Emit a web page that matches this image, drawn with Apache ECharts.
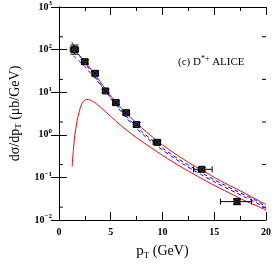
<!DOCTYPE html>
<html><head><meta charset="utf-8">
<script src="https://cdn.jsdelivr.net/npm/echarts@6/dist/echarts.min.js"></script>
<style>html,body{margin:0;padding:0;background:#fff}#c{width:274px;height:265px}</style>
</head><body><div id="c"></div>
<script>
// data
const ptX = [1.5, 2.5, 3.5, 4.5, 5.5, 6.5, 7.5, 9.5, 13.8, 17.2];
const ptY = [100, 52, 27.8, 10.7, 5.7, 3.3, 1.75, 0.666, 0.155, 0.027];
const ptXlo = [1.1, 2.2, 3.2, 4.2, 5.2, 6.2, 7.2, 9.1, 13.0, 15.6];
const ptXhi = [1.9, 2.8, 3.8, 4.8, 5.8, 6.8, 7.8, 9.8, 14.8, 18.6];
const ptYlo = [78, 46, 25, 9.8, 5.2, 3.0, 1.55, 0.6, 0.14, 0.023];
const ptYhi = [128, 58, 31, 11.8, 6.3, 3.6, 1.95, 0.73, 0.17, 0.031];

const ruX = [1.4, 2, 2.5, 3, 3.5, 4, 4.5, 5, 5.5, 6, 6.5, 7, 7.5, 8, 9, 10, 11, 12, 13, 14, 15, 16, 17, 18, 19, 20];
const ruY = [100, 72, 52, 37, 26, 17.5, 11.8, 8.2, 5.9, 4.3, 3.2, 2.45, 1.9, 1.45, 0.9, 0.58, 0.39, 0.27, 0.19, 0.14, 0.1, 0.074, 0.056, 0.042, 0.031, 0.023];
const rlX = [1.28, 1.4, 1.55, 1.72, 2, 2.3, 2.7, 3, 3.5, 4, 5, 6, 7, 8, 9, 10, 11, 12, 13, 14, 15, 16, 17, 18, 19, 20];
const rlY = [0.18, 0.45, 1.0, 1.9, 3.8, 5.8, 6.8, 6.6, 5.6, 4.5, 2.7, 1.65, 1.05, 0.7, 0.48, 0.33, 0.23, 0.165, 0.12, 0.088, 0.065, 0.049, 0.037, 0.028, 0.022, 0.017];
const buX = [1.25, 1.5, 2, 2.5, 3, 3.5, 4, 4.5, 5, 6, 7, 8, 9, 10, 11, 12, 13, 14, 15, 16, 17, 18, 19, 20];
const buY = [150, 115, 72, 49, 33.5, 23, 15.5, 10.8, 7.5, 3.8, 2.05, 1.2, 0.75, 0.49, 0.33, 0.23, 0.165, 0.12, 0.088, 0.066, 0.05, 0.038, 0.029, 0.0205];
const blX = [1.4, 1.6, 2, 2.5, 3, 3.5, 4, 4.5, 5, 6, 7, 8, 9, 10, 11, 12, 13, 14, 15, 16, 17, 18, 19, 20];
const blY = [72, 64, 53, 40, 29, 21, 15, 10.5, 7.2, 3.5, 1.85, 1.08, 0.67, 0.44, 0.3, 0.205, 0.148, 0.107, 0.079, 0.059, 0.045, 0.034, 0.026, 0.0185];

const yMinor = [0.02, 0.2, 2, 20, 200];

const zip = (a, b) => a.map((v, i) => [v, b[i]]);
const FONT = 'Liberation Serif';
const chart = echarts.init(document.getElementById('c'), null, {renderer: 'canvas'});

const tickCommon = {inside: true, length: 8, lineStyle: {color: '#000', width: 1}};
const minorCommon = {show: true, splitNumber: 2, length: 4, lineStyle: {color: '#000', width: 1}};

const yLab = v => {
  const e = Math.round(Math.log10(v));
  return '{b|10}{s|' + (e < 0 ? '\u2212' + (-e) : e) + '}';
};

chart.setOption({
  animation: false,
  grid: {left: 42, right: 8, top: 7, bottom: 32},
  xAxis: [{
    type: 'value', min: 0, max: 20, interval: 5,
    axisLine: {lineStyle: {color: '#000', width: 1}},
    axisTick: tickCommon, minorTick: minorCommon, splitLine: {show: false},
    axisLabel: {color: '#000', fontFamily: FONT, fontWeight: 'bold', fontSize: 10, margin: 7},
    name: '{p|p}{t|T}{g| (GeV)}', nameLocation: 'middle', nameGap: 23,
    nameTextStyle: {rich: {
      p: {fontFamily: FONT, fontSize: 15, color: '#000'},
      t: {fontFamily: FONT, fontSize: 9, color: '#000', padding: [8, 0, 0, 0]},
      g: {fontFamily: FONT, fontSize: 14, color: '#000'}
    }}
  }, {
    type: 'value', min: 0, max: 20, interval: 5, position: 'top',
    axisLine: {lineStyle: {color: '#000', width: 1}},
    axisTick: tickCommon, minorTick: minorCommon, axisLabel: {show: false}, splitLine: {show: false}
  }],
  yAxis: [{
    type: 'log', min: 0.01, max: 1000, logBase: 10,
    axisLine: {lineStyle: {color: '#000', width: 1}},
    axisTick: tickCommon, splitLine: {show: false},
    axisLabel: {formatter: yLab, margin: 7, rich: {
      b: {fontFamily: FONT, fontWeight: 'bold', fontSize: 10, color: '#000'},
      s: {fontFamily: FONT, fontWeight: 'bold', fontSize: 7, color: '#000', padding: [0, 0, 7, 0]}
    }},
    name: '{a|d\u03c3/dp}{t|T}{a| (\u03bcb/GeV)}', nameLocation: 'middle', nameGap: 29,
    nameTextStyle: {rich: {
      a: {fontFamily: FONT, fontSize: 14, color: '#000'},
      t: {fontFamily: FONT, fontSize: 9, color: '#000', padding: [8, 0, 0, 0]}
    }}
  }, {
    type: 'log', min: 0.01, max: 1000, logBase: 10, position: 'right',
    axisLine: {lineStyle: {color: '#000', width: 1}},
    axisTick: tickCommon, axisLabel: {show: false}, splitLine: {show: false}
  }],
  series: [
    {type: 'line', data: zip(ruX, ruY), smooth: 0.3, showSymbol: false, lineStyle: {color: '#ff0000', width: 1}},
    {type: 'line', data: zip(rlX, rlY), smooth: 0.3, showSymbol: false, lineStyle: {color: '#ff0000', width: 1}},
    {type: 'line', data: zip(buX, buY), smooth: 0.3, showSymbol: false, lineStyle: {color: '#0000ff', width: 1, type: [4, 3]}},
    {type: 'line', data: zip(blX, blY), smooth: 0.3, showSymbol: false, lineStyle: {color: '#0000ff', width: 1, type: [4, 3]}},
    {
      type: 'custom', data: ptX.map((x, i) => [x, ptY[i], ptXlo[i], ptXhi[i], ptYlo[i], ptYhi[i]]),
      renderItem: (params, api) => {
        const c = api.coord([api.value(0), api.value(1)]);
        const l = api.coord([api.value(2), api.value(1)]);
        const r = api.coord([api.value(3), api.value(1)]);
        const lo = api.coord([api.value(0), api.value(4)]);
        const hi = api.coord([api.value(0), api.value(5)]);
        const st = {stroke: '#000', lineWidth: 1, fill: null};
        const s = 3;
        return {type: 'group', children: [
          {type: 'line', shape: {x1: l[0], y1: c[1], x2: r[0], y2: c[1]}, style: st},
          {type: 'line', shape: {x1: l[0], y1: c[1] - 3, x2: l[0], y2: c[1] + 3}, style: st},
          {type: 'line', shape: {x1: r[0], y1: c[1] - 3, x2: r[0], y2: c[1] + 3}, style: st},
          {type: 'line', shape: {x1: c[0], y1: lo[1], x2: c[0], y2: hi[1]}, style: st},
          {type: 'line', shape: {x1: c[0] - 4, y1: lo[1], x2: c[0] + 4, y2: lo[1]}, style: st},
          {type: 'line', shape: {x1: c[0] - 4, y1: hi[1], x2: c[0] + 4, y2: hi[1]}, style: st},
          {type: 'rect', shape: {x: c[0] - s, y: c[1] - s, width: 2 * s, height: 2 * s}, style: {stroke: '#000', lineWidth: 1, fill: '#333'}},
          {type: 'line', shape: {x1: c[0] - s, y1: c[1] - s, x2: c[0] + s, y2: c[1] + s}, style: {stroke: '#000', lineWidth: 1}},
          {type: 'line', shape: {x1: c[0] - s, y1: c[1] + s, x2: c[0] + s, y2: c[1] - s}, style: {stroke: '#000', lineWidth: 1}}
        ]};
      },
      z: 5
    },
    {
      type: 'custom', data: yMinor.map(v => [v]),
      renderItem: (params, api) => {
        const cs = params.coordSys;
        const p = api.coord([0, api.value(0)]);
        const st = {stroke: '#000', lineWidth: 1};
        return {type: 'group', children: [
          {type: 'line', shape: {x1: cs.x, y1: p[1], x2: cs.x + 4, y2: p[1]}, style: st},
          {type: 'line', shape: {x1: cs.x + cs.width, y1: p[1], x2: cs.x + cs.width - 4, y2: p[1]}, style: st}
        ]};
      },
      encode: {y: 0}
    }
  ],
  graphic: [{
    type: 'text', left: 178, top: 55,
    style: {
      text: '{a|(c) D}{s|*+}{a| ALICE}',
      rich: {
        a: {fontFamily: FONT, fontSize: 11, fill: '#000'},
        s: {fontFamily: FONT, fontSize: 8, fill: '#000', padding: [0, 0, 6, 0]}
      }
    }
  }]
});
</script></body></html>
